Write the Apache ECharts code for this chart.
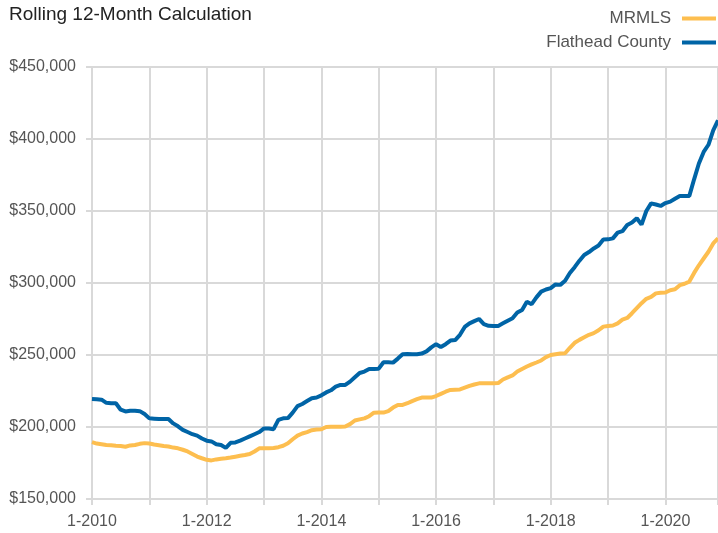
<!DOCTYPE html>
<html>
<head>
<meta charset="utf-8">
<script src="https://cdn.jsdelivr.net/npm/echarts@6/dist/echarts.min.js"></script>
<style>
  html, body { margin: 0; padding: 0; background: #fff; }
  #main { width: 718px; height: 533px; }
</style>
</head>
<body>
<div id="main"></div>
<script>
  // monthly rolling values, 1-2010 .. 12-2020
  var years = [2010, 2011, 2012, 2013, 2014, 2015, 2016, 2017, 2018, 2019, 2020];
  var months = [];
  for (var y = 0; y < years.length; y++) {
    for (var m = 1; m <= 12; m++) {
      months.push(m + '-' + years[y]);
    }
  }

  var mrmls = [
    189500, 188500, 188000, 187500, 187300, 187000, 186800, 186300, 187200, 187500, 188300, 188800,
    188500, 187800, 187300, 186800, 186500, 185700, 185200, 184200, 183000, 181300, 179500, 178300,
    177200, 176800, 177500, 178000, 178300, 178800, 179400, 180000, 180500, 181200, 183000, 185200,
    185200, 185200, 185400, 186000, 187000, 188700, 191500, 194000, 195500, 196500, 197800, 198200,
    198400, 200000, 200200, 200200, 200200, 200300, 202000, 204500, 205300, 206000, 207500, 209900,
    210000, 210000, 211000, 213500, 215300, 215300, 216500, 218000, 219300, 220400, 220400, 220400,
    221500, 223000, 224500, 225700, 225900, 226100, 227300, 228500, 229500, 230300, 230300, 230300,
    230300, 230500, 233000, 234500, 235800, 238500, 240300, 242000, 243500, 244800, 246200, 248500,
    250000, 250500, 251000, 251200, 255000, 258500, 260500, 262300, 264000, 265200, 267200, 269700,
    270200, 270500, 272000, 274500, 275700, 279000, 282500, 286000, 289000, 290300, 292800, 293300,
    293400, 295000, 295600, 298500, 299500, 301000, 307000, 312300, 317000, 321700, 327500, 331000
  ];

  var flathead = [
    219500, 219300, 219000, 216800, 216500, 216500, 212000, 210800, 211300, 211300, 211000, 209000,
    206000, 205800, 205500, 205500, 205500, 202500, 200500, 198000, 196500, 195000, 194000, 192000,
    190500, 190000, 188000, 187500, 185500, 189000, 189300, 190500, 192000, 193500, 195000, 196500,
    199000, 199000, 198500, 205000, 206000, 206200, 210000, 214500, 216000, 218000, 220000, 220500,
    222000, 224000, 225500, 228000, 229200, 229200, 231500, 234500, 237500, 238500, 240300, 240300,
    240500, 245000, 245000, 244700, 247500, 250500, 250700, 250500, 250500, 251000, 252500, 255300,
    257500, 255500, 257500, 260000, 260400, 264000, 269500, 272000, 273500, 275000, 271500, 270300,
    270100, 270200, 272000, 273800, 275500, 279500, 281300, 287000, 285300, 290000, 294000, 295500,
    296500, 299000, 298700, 301500, 307000, 311000, 315500, 319500, 321500, 324000, 326000, 330200,
    330300, 331000, 335000, 336000, 340300, 342000, 345000, 340500, 350000, 355300, 354500, 353500,
    355500, 356500, 358500, 360400, 360400, 360500, 372000, 383000, 391000, 396000, 406000, 413000
  ];

  var yTicks = [150000, 200000, 250000, 300000, 350000, 400000, 450000];

  var font = '"Liberation Sans Narrow", "Arial Narrow", "Liberation Sans", sans-serif';
  var gridColor = '#d9d9d9';
  var lastIdx = months.length - 1;

  function yearMark(idx) {
    return idx % 12 === 0 || idx === lastIdx;
  }

  var myChart = echarts.init(document.getElementById('main'));
  myChart.setOption({
    animation: false,
    title: {
      text: 'Rolling 12-Month Calculation',
      left: 4,
      top: 0,
      textStyle: { fontFamily: font, fontSize: 19, fontWeight: 'normal', color: '#222' }
    },
    legend: {
      orient: 'vertical',
      right: -3,
      top: 5,
      align: 'right',
      itemGap: 7,
      itemWidth: 34,
      itemHeight: 4,
      icon: 'rect',
      textStyle: { fontFamily: font, fontSize: 17, color: '#555', padding: [0, 6, 0, 0] },
      data: ['MRMLS', 'Flathead County']
    },
    grid: {
      left: 92,
      right: 0,
      top: 67,
      bottom: 34,
      containLabel: false
    },
    xAxis: {
      type: 'category',
      boundaryGap: false,
      data: months,
      axisLine: { show: false },
      axisTick: {
        show: true,
        length: 6,
        interval: function (i) { return yearMark(i); },
        lineStyle: { color: gridColor, width: 2 }
      },
      splitLine: {
        show: true,
        interval: function (i) { return yearMark(i); },
        lineStyle: { color: gridColor, width: 2 }
      },
      axisLabel: {
        interval: function (i) { return i % 24 === 0; },
        margin: 15,
        fontFamily: font,
        fontSize: 16,
        color: '#555'
      }
    },
    yAxis: {
      type: 'value',
      min: yTicks[0],
      max: yTicks[yTicks.length - 1],
      interval: 50000,
      axisLine: { show: false },
      axisTick: { show: true, length: 6, lineStyle: { color: gridColor, width: 2 } },
      splitLine: { lineStyle: { color: gridColor, width: 2 } },
      axisLabel: {
        margin: 16,
        fontFamily: font,
        fontSize: 16,
        color: '#555',
        formatter: function (v) { return '$' + v.toLocaleString('en-US'); }
      }
    },
    series: [
      {
        name: 'MRMLS',
        type: 'line',
        data: mrmls,
        symbol: 'none',
        color: '#FDBE4F',
        lineStyle: { width: 4, color: '#FDBE4F' }
      },
      {
        name: 'Flathead County',
        type: 'line',
        data: flathead,
        symbol: 'none',
        color: '#0064A6',
        lineStyle: { width: 4, color: '#0064A6' }
      }
    ]
  });
</script>
</body>
</html>
